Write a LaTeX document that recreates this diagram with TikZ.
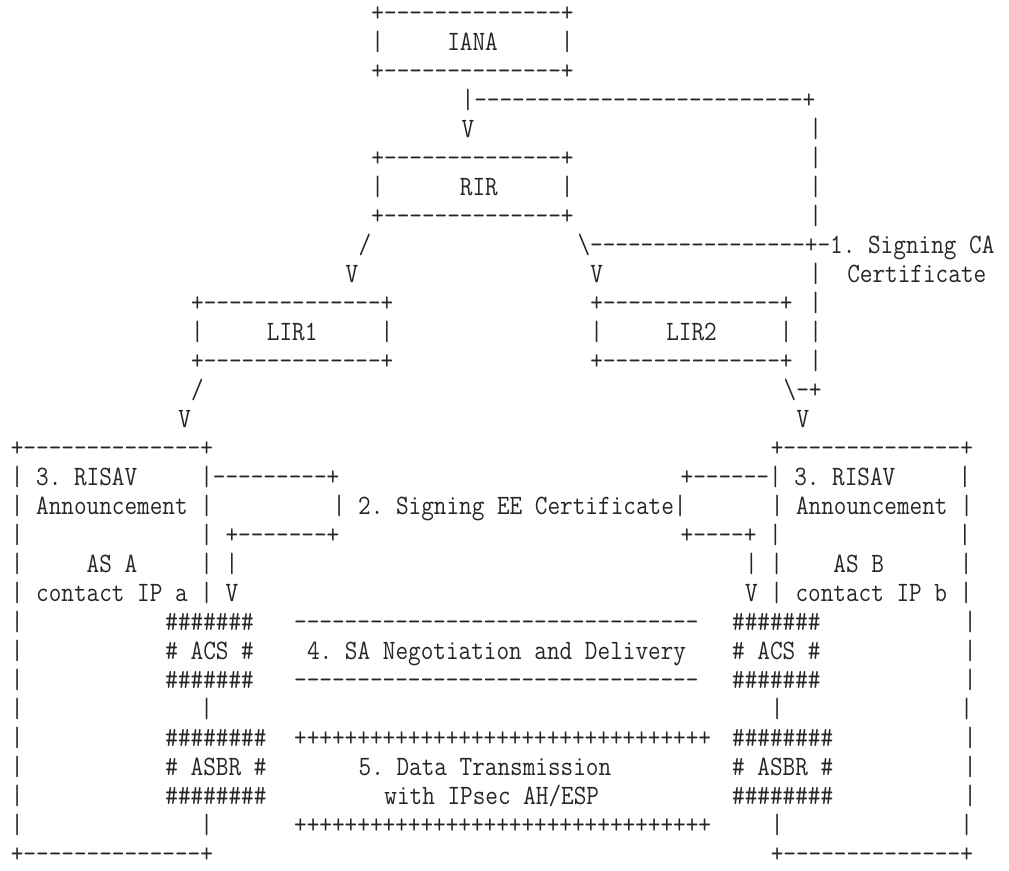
\documentclass[tikz,border=0pt]{standalone}
\usepackage{graphicx}

\newcommand\asciifont{\fontsize{14}{14}\selectfont\ttfamily\frenchspacing}
\tikzset{
  asc/.style={anchor=base west, inner sep=0pt, outer sep=0pt, text=black!85,
    execute at begin node={\setbox0=\hbox\bgroup\asciifont},
    execute at end node={\egroup\scalebox{0.876}[1]{\box0}}},
}

\begin{document}
\begin{tikzpicture}[x=6.44pt, y=-14.5pt]
  \useasboundingbox (0,0) rectangle (78.34,30.034);
  \begin{scope}[shift={(0.843,0.7241)}]
    % registries
    \node[asc] (ianaT) at (28,0) {+--------------+};
    \node[asc] (iana)  at (28,1) {|~~~~~IANA~~~~~|};
    \node[asc] (ianaB) at (28,2) {+--------------+};
    \node[asc] (caTop) at (35,3) {|--------------------------+};
    \node[asc] (v1)    at (35,4) {V};
    \node[asc] (rirT)  at (28,5) {+--------------+};
    \node[asc] (rir)   at (28,6) {|~~~~~~RIR~~~~~|};
    \node[asc] (rirB)  at (28,7) {+--------------+};
    \node[asc] (sl1)   at (27,8) {/};
    \node[asc] (ca)    at (44,8) {\textbackslash-----------------+-1.~Signing~CA};
    \node[asc] (v2)    at (26,9) {V};
    \node[asc] (v3)    at (45,9) {V};
    \node[asc] (cert)  at (62,9) {|~~Certificate};
    \foreach \r in {4,5,6,7,10,11,12}
      \node[asc] (cb\r) at (62,\r) {|};
    \node[asc] (lirAT) at (14,10) {+--------------+};
    \node[asc] (lirA)  at (14,11) {|~~~~~LIR1~~~~~|};
    \node[asc] (lirAB) at (14,12) {+--------------+};
    \node[asc] (lirBT) at (45,10) {+--------------+};
    \node[asc] (lirB)  at (45,11) {|~~~~~LIR2~~~~~|};
    \node[asc] (lirBB) at (45,12) {+--------------+};
    \node[asc] (sl2)   at (14,13) {/};
    \node[asc] (bs2)   at (60,13) {\textbackslash-+};
    \node[asc] (v4)    at (13,14) {V};
    \node[asc] (v5)    at (61,14) {V};
    % AS A
    \node[asc] (asaT)  at (0,15) {+--------------+};
    \node[asc] (asa1)  at (0,16) {|~3.~RISAV~~~~~|---------+};
    \node[asc] (asa2)  at (0,17) {|~Announcement~|};
    \node[asc] (ee)    at (25,17) {|~2.~Signing~EE~Certificate|};
    \node[asc] (asa3)  at (0,18) {|~~~~~~~~~~~~~~|~+-------+};
    \node[asc] (asa4)  at (0,19) {|~~~~~AS~A~~~~~|~|};
    \node[asc] (asa5)  at (0,20) {|~contact~IP~a~|~V};
    \node[asc] (asa6)  at (0,24) {|~~~~~~~~~~~~~~|};
    \node[asc] (asa7)  at (0,28) {|~~~~~~~~~~~~~~|};
    \node[asc] (asaB)  at (0,29) {+--------------+};
    % AS B
    \node[asc] (asbT)  at (59,15) {+--------------+};
    \node[asc] (asb1)  at (52,16) {+------|~3.~RISAV~~~~~|};
    \node[asc] (asb2)  at (59,17) {|~Announcement~|};
    \node[asc] (asb3)  at (52,18) {+----+~|~~~~~~~~~~~~~~|};
    \node[asc] (asb4)  at (57,19) {|~|~~~~AS~B~~~~~~|};
    \node[asc] (asb5)  at (57,20) {V~|~contact~IP~b~|};
    \node[asc] (asb6)  at (59,24) {|~~~~~~~~~~~~~~|};
    \node[asc] (asb7)  at (59,28) {|~~~~~~~~~~~~~~|};
    \node[asc] (asbB)  at (59,29) {+--------------+};
    \foreach \r in {21,...,23,25,26,27} {
      \node[asc] (wa\r) at (0,\r) {|};
      \node[asc] (wb\r) at (74,\r) {|};
    }
    % ACS and ASBR
    \node[asc] (acsAT) at (12,21) {\#\#\#\#\#\#\#};
    \node[asc] (acsA)  at (12,22) {\#~ACS~\#};
    \node[asc] (acsAB) at (12,23) {\#\#\#\#\#\#\#};
    \node[asc] (acsBT) at (56,21) {\#\#\#\#\#\#\#};
    \node[asc] (acsB)  at (56,22) {\#~ACS~\#};
    \node[asc] (acsBB) at (56,23) {\#\#\#\#\#\#\#};
    \node[asc] (brAT)  at (12,25) {\#\#\#\#\#\#\#\#};
    \node[asc] (brA)   at (12,26) {\#~ASBR~\#};
    \node[asc] (brAB)  at (12,27) {\#\#\#\#\#\#\#\#};
    \node[asc] (brBT)  at (56,25) {\#\#\#\#\#\#\#\#};
    \node[asc] (brB)   at (56,26) {\#~ASBR~\#};
    \node[asc] (brBB)  at (56,27) {\#\#\#\#\#\#\#\#};
    % SA negotiation
    \node[asc] (saT)   at (22,21) {--------------------------------};
    \node[asc] (sa)    at (23,22) {4.~SA~Negotiation~and~Delivery};
    \node[asc] (saB)   at (22,23) {--------------------------------};
    % data transmission
    \node[asc] (dtT)   at (22,25) {+++++++++++++++++++++++++++++++++};
    \node[asc] (dt)    at (27,26) {5.~Data~Transmission};
    \node[asc] (dt2)   at (29,27) {with~IPsec~AH/ESP};
    \node[asc] (dtB)   at (22,28) {+++++++++++++++++++++++++++++++++};
  \end{scope}
\end{tikzpicture}
\end{document}
